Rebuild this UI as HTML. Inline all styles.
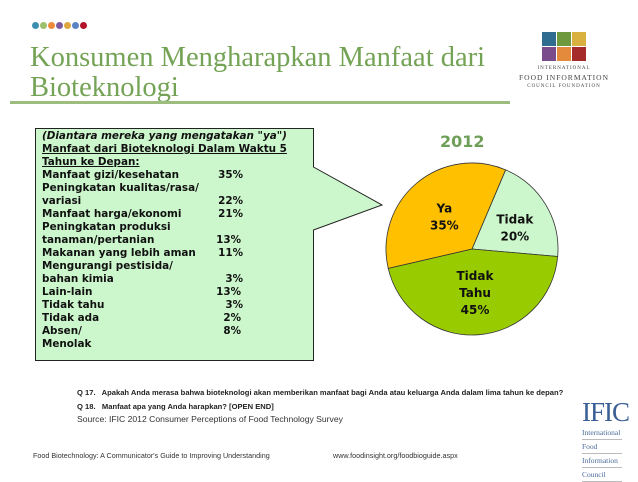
<!DOCTYPE html>
<html><head><meta charset="utf-8"><style>
body{margin:0;width:638px;height:479px;background:#fff;position:relative;overflow:hidden;font-family:"Liberation Sans",sans-serif}
.abs{position:absolute}
.dot{position:absolute;top:22px;width:7px;height:7px;border-radius:50%}
.t{font-family:"DejaVu Sans",sans-serif;font-weight:bold;font-size:10.4px;color:#111;position:absolute;left:42px;white-space:nowrap}
.p{position:absolute;right:395px;font-family:"DejaVu Sans",sans-serif;font-weight:bold;font-size:10.4px;color:#111}
</style></head><body>
<div>
<div class="dot" style="left:32px;background:#3d8fb0"></div><div class="dot" style="left:40px;background:#9cc06a"></div><div class="dot" style="left:48px;background:#ee8a3a"></div><div class="dot" style="left:56px;background:#7d5aa0"></div><div class="dot" style="left:64px;background:#e0a63e"></div><div class="dot" style="left:72px;background:#5b82c4"></div><div class="dot" style="left:80px;background:#b2122a"></div>
</div>
<div class="abs" style="left:30px;top:43px;font-family:'Liberation Serif',serif;font-size:28.5px;line-height:30px;color:#74a356;white-space:nowrap">Konsumen Mengharapkan Manfaat dari<br>Bioteknologi</div>
<div class="abs" style="left:10px;top:101px;width:500px;height:3px;background:#9dbd7f"></div>
<div class="abs" style="left:542px;top:32px;width:44px;height:30px">
<div class="abs" style="left:0;top:0;width:14px;height:14px;background:#2f6c8f"></div><div class="abs" style="left:15px;top:0;width:14px;height:14px;background:#6e9a3d"></div><div class="abs" style="left:30px;top:0;width:14px;height:14px;background:#d9b140"></div>
<div class="abs" style="left:0;top:15px;width:14px;height:14px;background:#7a4c8c"></div><div class="abs" style="left:15px;top:15px;width:14px;height:14px;background:#e38a3c"></div><div class="abs" style="left:30px;top:15px;width:14px;height:14px;background:#a52a2a"></div>
</div>
<div class="abs" style="left:505px;top:64px;width:118px;text-align:center;font-family:'Liberation Serif',serif;color:#444;line-height:9px">
<div style="font-size:5px;letter-spacing:1px">INTERNATIONAL</div><div style="font-size:7.5px;letter-spacing:1px">FOOD INFORMATION</div><div style="font-size:5px;letter-spacing:1px">COUNCIL FOUNDATION</div></div>

<svg class="abs" style="left:0;top:0" width="638" height="479">
<path d="M35.5,128.5 H313.5 V167 L382,205 L313.5,230 V360.5 H35.5 Z" fill="#ccf7cc" stroke="#222" stroke-width="1"/>
</svg>
<div class="t" style="top:130px;font-style:italic">(Diantara mereka yang mengatakan "ya")</div>
<div class="t" style="top:143px;text-decoration:underline">Manfaat dari Bioteknologi Dalam Waktu 5</div>
<div class="t" style="top:156px;text-decoration:underline">Tahun ke Depan:</div>
<div>
<div class="t" style="top:169px">Manfaat gizi/kesehatan</div><div class="p" style="top:169px">35%</div>
<div class="t" style="top:182px">Peningkatan kualitas/rasa/</div>
<div class="t" style="top:195px">variasi</div><div class="p" style="top:195px">22%</div>
<div class="t" style="top:208px">Manfaat harga/ekonomi</div><div class="p" style="top:208px">21%</div>
<div class="t" style="top:221px">Peningkatan produksi</div>
<div class="t" style="top:234px">tanaman/pertanian</div><div class="p" style="top:234px;right:397px">13%</div>
<div class="t" style="top:247px">Makanan yang lebih aman</div><div class="p" style="top:247px">11%</div>
<div class="t" style="top:260px">Mengurangi pestisida/</div>
<div class="t" style="top:273px">bahan kimia</div><div class="p" style="top:273px">3%</div>
<div class="t" style="top:286px">Lain-lain</div><div class="p" style="top:286px;right:397px">13%</div>
<div class="t" style="top:299px">Tidak tahu</div><div class="p" style="top:299px">3%</div>
<div class="t" style="top:312px">Tidak ada</div><div class="p" style="top:312px;right:397px">2%</div>
<div class="t" style="top:325px">Absen/</div><div class="p" style="top:325px;right:397px">8%</div>
<div class="t" style="top:338px">Menolak</div>
</div>

<div class="abs" style="left:440px;top:132px;font-family:'DejaVu Sans',sans-serif;font-weight:bold;font-size:16px;color:#6e9f58">2012</div>
<svg id="pie" class="abs" style="left:0;top:0" width="638" height="479"></svg>
<script>
const categories=["Tidak","Tidak Tahu","Ya"];
const values=[20,45,35];
const labels=["Tidak\n20%","Tidak\nTahu\n45%","Ya\n35%"];
const colors=["#ccf7cc","#99cc00","#ffc000"];
const svg=document.getElementById('pie');
const cx=472,cy=249,r=86,startDeg=23;
const total=values.reduce((a,b)=>a+b,0);
function pt(deg,rad){const a=(deg-90)*Math.PI/180;return [cx+rad*Math.cos(a),cy+rad*Math.sin(a)];}
let acc=startDeg;
values.forEach((v,i)=>{
 const sweep=v/total*360,a0=acc,a1=acc+sweep;acc=a1;
 const p0=pt(a0,r),p1=pt(a1,r);
 const path=document.createElementNS('http://www.w3.org/2000/svg','path');
 path.setAttribute('d',`M${cx},${cy} L${p0[0]},${p0[1]} A${r},${r} 0 ${sweep>180?1:0} 1 ${p1[0]},${p1[1]} Z`);
 path.setAttribute('fill',colors[i]);path.setAttribute('stroke','#333');path.setAttribute('stroke-width','0.8');
 
 
 svg.appendChild(path);
 const mid=(a0+a1)/2,lp=pt(mid,r*0.5);
 const lines=labels[i].split('\n');
 const tx=document.createElementNS('http://www.w3.org/2000/svg','text');
 
 
 tx.setAttribute('text-anchor','middle');tx.setAttribute('font-family','DejaVu Sans, sans-serif');tx.setAttribute('font-weight','bold');tx.setAttribute('font-size','12');tx.setAttribute('fill','#111');
 lines.forEach((l,j)=>{const ts=document.createElementNS('http://www.w3.org/2000/svg','tspan');ts.setAttribute('x',lp[0]+(i==0?6:0));ts.setAttribute('y',lp[1]+(j-(lines.length-1)/2)*17+5);ts.textContent=l;tx.appendChild(ts);});
 svg.appendChild(tx);
});
</script>

<div class="abs" style="left:77px;top:386px;font-size:7.6px;font-weight:bold;color:#222;line-height:14px;white-space:nowrap">
<div>Q 17.&nbsp;&nbsp; Apakah Anda merasa bahwa bioteknologi akan memberikan manfaat bagi Anda atau keluarga Anda dalam lima tahun ke depan?</div>
<div>Q 18.&nbsp;&nbsp; Manfaat apa yang Anda harapkan? [OPEN END]</div></div>
<div class="abs" style="left:77px;top:414px;font-size:8.6px;color:#333">Source: IFIC 2012 Consumer Perceptions of Food Technology Survey</div>
<div class="abs" style="left:33px;top:451px;font-size:7.2px;color:#333">Food Biotechnology: A Communicator's Guide to Improving Understanding</div>
<div class="abs" style="left:333px;top:451px;font-size:7.2px;color:#333">www.foodinsight.org/foodbioguide.aspx</div>
<div class="abs" style="left:582px;top:398px;font-family:'Liberation Serif',serif;color:#3a5f96">
<div style="font-size:27px;line-height:28px;letter-spacing:-1px">IFIC</div>
<div style="font-size:7.5px;line-height:13px;color:#4a6a9a"><div style="border-bottom:1px solid #bbb;width:40px">International</div><div style="border-bottom:1px solid #bbb;width:40px">Food</div><div style="border-bottom:1px solid #bbb;width:40px">Information</div><div style="border-bottom:1px solid #bbb;width:40px">Council</div></div></div>
</body></html>
